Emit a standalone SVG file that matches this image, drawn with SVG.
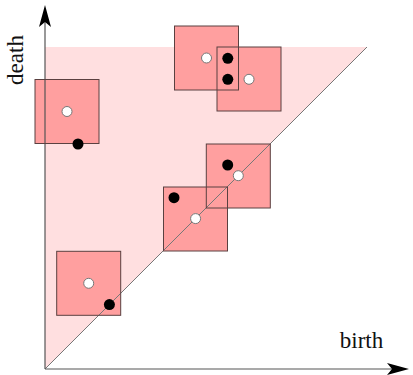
<svg xmlns="http://www.w3.org/2000/svg" width="413" height="375" viewBox="0 0 413 375">
<style>
.sq{fill:#ff9f9f;stroke:none}
.sqe{fill:none;stroke:#5a4040;stroke-width:1}
.wd{fill:#fff;stroke:#777;stroke-width:1}
.bd{fill:#000}
.lbl{font-family:"Liberation Serif","Times New Roman",serif;font-size:23px;fill:#111}
.ax{stroke:#555;stroke-width:1.2;fill:none}
.ah{fill:#000}
</style>
<rect width="413" height="375" fill="#fff"/>
<polygon points="45,47 367,47 45,369" fill="#ffdfe0"/>
<g id="fills">
<rect class="sq" x="35" y="79.5" width="64" height="64"/>
<rect class="sq" x="174.5" y="26" width="64" height="64"/>
<rect class="sq" x="217" y="47" width="64" height="64"/>
<rect class="sq" x="206.3" y="144" width="64" height="64"/>
<rect class="sq" x="163.5" y="187" width="64" height="64"/>
<rect class="sq" x="56.7" y="251.3" width="64" height="64"/>
</g>
<g id="connectors">
<line x1="45" y1="369" x2="367" y2="47" stroke="#777" stroke-width="1"/>
<line class="ax" x1="45" y1="369" x2="45" y2="20"/>
<line class="ax" x1="45" y1="369" x2="395" y2="369"/>
<polygon class="ah" points="45,5 51,27 45,22 39,27"/>
<polygon class="ah" points="409,369 387,375 392,369 387,363"/>
</g>
<g id="node1"><rect class="sqe" x="35" y="79.5" width="64" height="64"/><circle class="wd" cx="67" cy="111.5" r="5"/><circle class="bd" cx="78" cy="144" r="5.5"/></g>
<g id="node2"><rect class="sqe" x="174.5" y="26" width="64" height="64"/><circle class="wd" cx="206.5" cy="58" r="5"/><circle class="bd" cx="227.8" cy="58.3" r="5.5"/></g>
<g id="node3"><rect class="sqe" x="217" y="47" width="64" height="64"/><circle class="wd" cx="249" cy="79.3" r="5"/><circle class="bd" cx="227.8" cy="79.3" r="5.5"/></g>
<g id="node4"><rect class="sqe" x="206.3" y="144" width="64" height="64"/><circle class="wd" cx="238.3" cy="175.7" r="5"/><circle class="bd" cx="227.7" cy="165" r="5.5"/></g>
<g id="node5"><rect class="sqe" x="163.5" y="187" width="64" height="64"/><circle class="wd" cx="195.6" cy="218.6" r="5"/><circle class="bd" cx="174" cy="197.7" r="5.5"/></g>
<g id="node6"><rect class="sqe" x="56.7" y="251.3" width="64" height="64"/><circle class="wd" cx="88.7" cy="283.3" r="5"/><circle class="bd" cx="109.4" cy="304.6" r="5.5"/></g>
<text class="lbl" transform="translate(23,60) rotate(-90)" text-anchor="middle">death</text>
<text class="lbl" x="361.5" y="348" text-anchor="middle">birth</text>
</svg>
